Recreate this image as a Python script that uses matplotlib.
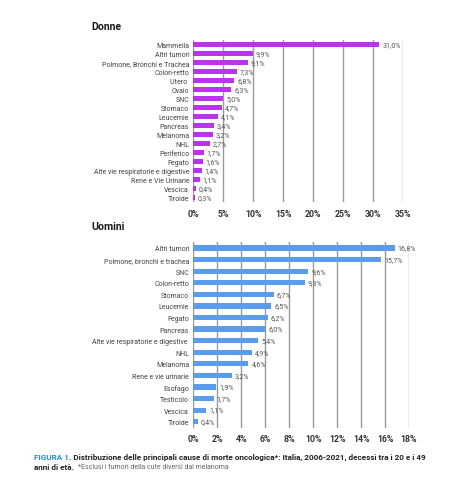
import matplotlib
matplotlib.use('Agg')
import matplotlib.pyplot as plt

plt.rcParams['font.family'] = ['Roboto', 'DejaVu Sans']

donne_labels = ['Mammella', 'Altri tumori', 'Polmone, Bronchi e Trachea', 'Colon-retto', 'Utero ',
                'Ovaio', 'SNC', 'Stomaco', 'Leucemie', 'Pancreas', 'Melanoma', 'NHL', 'Periferico',
                'Fegato', 'Alte vie respiratorie e digestive', 'Rene e Vie Urinarie', 'Vescica', 'Tiroide']
donne_values = [31.0, 9.9, 9.1, 7.3, 6.8, 6.3, 5.0, 4.7, 4.1, 3.4, 3.2, 2.7, 1.7, 1.6, 1.4, 1.1, 0.4, 0.3]
donne_ticks = [0, 5, 10, 15, 20, 25, 30, 35]

uomini_labels = ['Altri tumori', 'Polmone, bronchi e trachea', 'SNC', 'Colon-retto', 'Stomaco',
                 'Leucemie', 'Fegato', 'Pancreas', 'Alte vie respiratorie e digestive ', 'NHL',
                 'Melanoma', 'Rene e vie urinarie', 'Esofago', 'Testicolo', 'Vescica', 'Tiroide']
uomini_values = [16.8, 15.7, 9.6, 9.3, 6.7, 6.5, 6.2, 6.0, 5.4, 4.9, 4.6, 3.2, 1.9, 1.7, 1.1, 0.4]
uomini_ticks = [0, 2, 4, 6, 8, 10, 12, 14, 16, 18]

W, H = 474, 481
fig = plt.figure(figsize=(W / 100, H / 100), dpi=100)
fig.patch.set_facecolor('white')
r = fig.canvas.get_renderer()


def px_axes(x0, x1, y0, y1):
    return fig.add_axes([x0 / W, 1 - y1 / H, (x1 - x0) / W, (y1 - y0) / H])


def draw_panel(ax, labels, values, ticks, color, bar_h, title, title_y):
    n = len(labels)
    pos = list(range(n))[::-1]
    ax.barh(pos, values, height=bar_h, color=color, zorder=3)
    ax.set_xlim(ticks[0], ticks[-1])
    ax.set_ylim(-0.5, n - 0.5)
    ax.set_xticks(ticks)
    ax.set_xticklabels([f'{t}%' for t in ticks], fontweight='bold', fontsize=6.3, color='#333333')
    ax.set_yticks(pos)
    ax.set_yticklabels(labels, fontsize=5.0, color='#444444')
    ax.tick_params(length=0, pad=3)
    ax.tick_params(axis='x', pad=5)
    for t in ticks:
        ax.axvline(t, color='#9a9a9a', lw=1.0, zorder=1)
    for s in ax.spines.values():
        s.set_visible(False)
    for p, v in zip(pos, values):
        ax.text(v + (ticks[-1] - ticks[0]) * 0.014, p, f'{v:.1f}%'.replace('.', ','),
                va='center', ha='left', fontsize=5.0, color='#555555', zorder=4)
    fig.text(91 / W, 1 - title_y / H, title, fontsize=7.6, fontweight='bold',
             color='#1a1a1a', va='center', ha='left')


ax1 = px_axes(193.3, 403.3, 41.2, 203.2)
draw_panel(ax1, donne_labels, donne_values, donne_ticks, '#bb33ee', 0.5, 'Donne', 26.7)

ax2 = px_axes(193.3, 409.0, 243.2, 428.5)
draw_panel(ax2, uomini_labels, uomini_values, uomini_ticks, '#5b9bec', 0.45, 'Uomini', 227.3)


# caption, built from pieces
def piece(x, y, s, **kw):
    t = fig.text(x / W, 1 - y / H, s, va='center', ha='left', **kw)
    bb = t.get_window_extent(renderer=r)
    return bb.x1


cap_size = 5.9
x = piece(34, 457.3, 'FIGURA 1', fontsize=cap_size, fontweight='bold', color='#1f8fd6')
piece(x, 457.3, '. Distribuzione delle principali cause di morte oncologica*: Italia, 2006-2021, '
      'decessi tra i 20 e i 49', fontsize=cap_size, fontweight='bold', color='#222222')
x = piece(34, 467.3, 'anni di età. ', fontsize=cap_size, fontweight='bold', color='#222222')
piece(x + 2, 467.3, '*Esclusi i tumori della cute diversi dal melanoma', fontsize=5.0, color='#666666')

fig.savefig('out.png', dpi=100, facecolor='white')
